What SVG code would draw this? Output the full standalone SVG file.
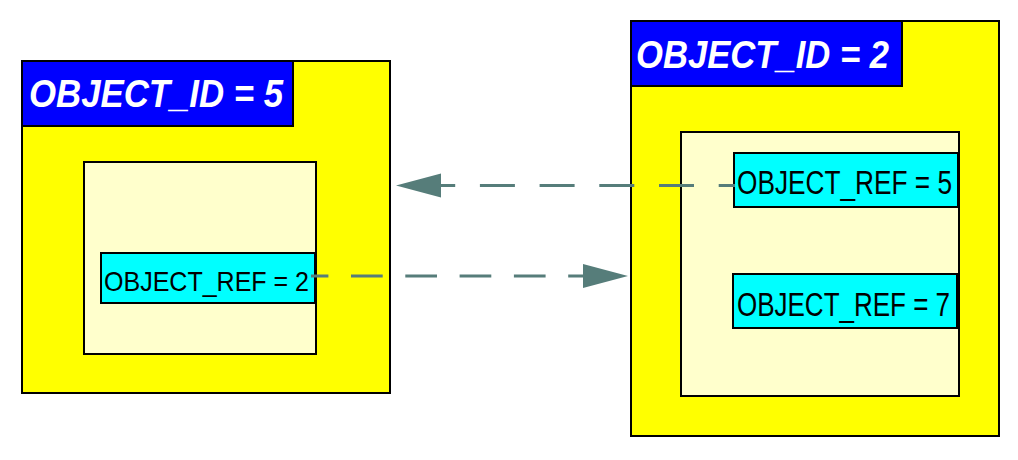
<svg xmlns="http://www.w3.org/2000/svg" width="1018" height="460" viewBox="0 0 1018 460">
<style>
.outer{fill:#FFFF00;stroke:#000;stroke-width:2}
.hdr{fill:#0000FF;stroke:#000;stroke-width:2}
.inner{fill:#FFFFCC;stroke:#000;stroke-width:2}
.ref{fill:#00FFFF;stroke:#000;stroke-width:2}
.ht{font-family:"Liberation Sans",Arial,sans-serif;font-weight:bold;font-style:italic;font-size:39px;fill:#fff}
.rt{font-family:"Liberation Sans",Arial,sans-serif;fill:#000}
.conn{stroke:#567D7A;stroke-width:3;fill:none}
.head{fill:#567D7A}
</style>
<rect width="1018" height="460" fill="#fff"/>
<g id="object5">
<rect class="outer" x="22" y="61" width="368" height="332"/>
<rect class="hdr" x="22" y="61" width="271" height="65"/>
<text class="ht" x="29" y="106.5" textLength="254" lengthAdjust="spacingAndGlyphs">OBJECT_ID = 5</text>
<rect class="inner" x="84" y="162" width="232" height="192"/>
</g>
<g id="ref2">
<rect class="ref" x="101" y="253" width="214" height="50"/>
<text class="rt" x="104" y="290.5" font-size="28" textLength="205" lengthAdjust="spacingAndGlyphs">OBJECT_REF = 2</text>
</g>
<g id="object2">
<rect class="outer" x="631" y="21" width="368" height="415"/>
<rect class="hdr" x="631" y="21" width="271" height="65"/>
<text class="ht" x="636" y="68.3" textLength="253" lengthAdjust="spacingAndGlyphs">OBJECT_ID = 2</text>
<rect class="inner" x="681" y="132" width="278" height="264"/>
</g>
<g id="ref5">
<rect class="ref" x="734" y="153" width="224" height="54"/>
<text class="rt" x="737" y="194.3" font-size="34" textLength="215" lengthAdjust="spacingAndGlyphs">OBJECT_REF = 5</text>
</g>
<g id="ref7">
<rect class="ref" x="733" y="274" width="224" height="54"/>
<text class="rt" x="737" y="315.7" font-size="34" textLength="213" lengthAdjust="spacingAndGlyphs">OBJECT_REF = 7</text>
</g>
<g id="connectors">
<line class="conn" x1="735" y1="185.5" x2="440" y2="185.5" stroke-dasharray="35 24.7" stroke-dashoffset="18.7"/>
<polygon class="head" points="396,185.5 441,173.5 441,197.5"/>
<line class="conn" x1="311" y1="276" x2="584" y2="276" stroke-dasharray="31.7 22.6" stroke-dashoffset="14.3"/>
<polygon class="head" points="628,276 583,264 583,288"/>
</g>
</svg>
